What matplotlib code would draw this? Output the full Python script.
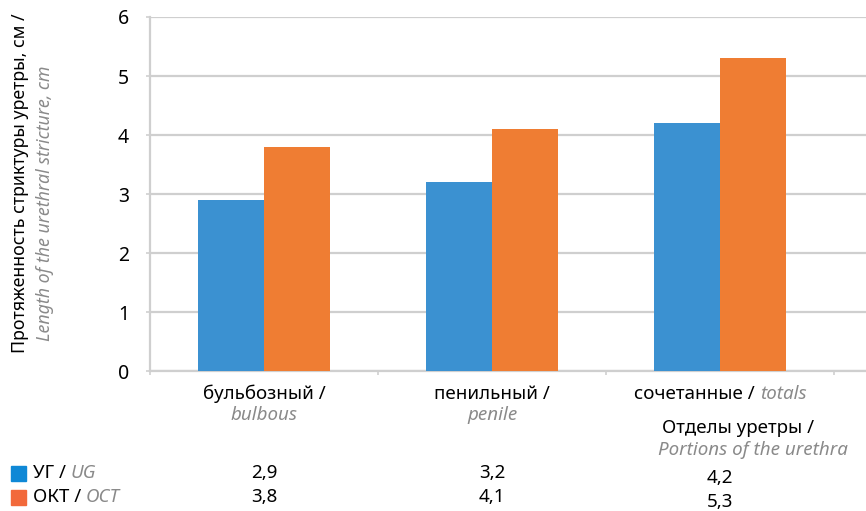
import numpy as np
import matplotlib
matplotlib.use('Agg')
import matplotlib.pyplot as plt
from matplotlib.transforms import blended_transform_factory
from matplotlib.patches import Rectangle

# categories (ru / en) and the two series
cats_ru = ['бульбозный /', 'пенильный /', 'сочетанные /']
cats_en = ['bulbous', 'penile', 'totals']
ug = [2.9, 3.2, 4.2]
okt = [3.8, 4.1, 5.3]
series_ru = ['УГ /', 'ОКТ /']
series_en = ['UG', 'OCT']
yticks = [0, 1, 2, 3, 4, 5, 6]

blue = '#3b91d1'
orange = '#ef7d33'
gray = '#8a8a8a'
grid_c = '#cfcfcf'

plt.rcParams['font.family'] = ['Noto Sans', 'DejaVu Sans']

W, H = 866, 511
fig = plt.figure(figsize=(W / 100, H / 100), dpi=100)
fig.patch.set_facecolor('white')

def fx(x):
    return x / W

def fy(y):
    return 1 - y / H

ax = fig.add_axes([fx(150), fy(371), fx(866) - fx(150), fy(17) - fy(371)])

x = np.arange(len(ug))
bw = 0.29
ax.bar(x - bw / 2, ug, bw, color=blue, zorder=3)
ax.bar(x + bw / 2, okt, bw, color=orange, zorder=3)

ax.set_xlim(-0.5, 2.64)
ax.set_ylim(0, 6)
ax.set_yticks(yticks)
ax.set_yticklabels([str(t) for t in yticks], fontsize=14)
ax.yaxis.grid(True, color=grid_c, linewidth=1.6, zorder=0)
ax.tick_params(axis='y', length=3, width=1.2, color=grid_c, pad=12)
ax.set_xticks([-0.5, 0.5, 1.5, 2.5])
ax.set_xticklabels([])
ax.tick_params(axis='x', length=3, width=1.2, color=grid_c, direction='out')
for s in ['top', 'right']:
    ax.spines[s].set_visible(False)
for s in ['left', 'bottom']:
    ax.spines[s].set_color(grid_c)
    ax.spines[s].set_linewidth(1.6)

# y axis title, two lines
fig.text(fx(20), fy(183), 'Протяженность стриктуры уретры, см /', rotation=90,
         ha='center', va='center', fontsize=12.8, color='black')
fig.text(fx(45), fy(203), 'Length of the urethral stricture, cm', rotation=90,
         ha='center', va='center', fontsize=12.8, color=gray, style='italic')

tr = blended_transform_factory(ax.transData, fig.transFigure)
fs = 13.5

# category labels
for i in range(2):
    fig.text(x[i], fy(394), cats_ru[i], transform=tr, ha='center', va='center',
             fontsize=fs, color='black')
    fig.text(x[i], fy(415), cats_en[i], transform=tr, ha='center', va='center',
             fontsize=fs, color=gray, style='italic')
t = fig.text(x[2] - 0.1, fy(394), cats_ru[2] + ' ', transform=tr, ha='center',
             va='center', fontsize=fs, color='black')
ax.annotate(cats_en[2], xy=(1, 0), xycoords=t, ha='left', va='bottom',
            fontsize=fs, color=gray, style='italic', annotation_clip=False)

# axis title for the categories
fig.text(fx(662), fy(428), 'Отделы уретры /', ha='left', va='center',
         fontsize=fs, color='black')
fig.text(fx(658), fy(450), 'Portions of the urethra', ha='left', va='center',
         fontsize=fs, color=gray, style='italic')

# data table under the chart
rows = [ug, okt]
row_y = [473, 497]
sq_cols = ['#0f88d6', '#f2693b']
for r in range(2):
    fig.add_artist(Rectangle((fx(11), fy(row_y[r] + 8)), fx(15), fy(0) - fy(15),
                             transform=fig.transFigure, color=sq_cols[r]))
    lt = fig.text(fx(33), fy(row_y[r]), series_ru[r] + ' ', ha='left', va='center',
                  fontsize=fs, color='black')
    ax.annotate(series_en[r], xy=(1, 0), xycoords=lt, ha='left', va='bottom',
                fontsize=fs, color=gray, style='italic', annotation_clip=False)
    for i, v in enumerate(rows[r]):
        dy = 5 if i == 2 else 0
        fig.text(x[i], fy(row_y[r] + dy), f'{v:.1f}'.replace('.', ','), transform=tr,
                 ha='center', va='center', fontsize=fs, color='black')

fig.savefig('out.png', dpi=100)
